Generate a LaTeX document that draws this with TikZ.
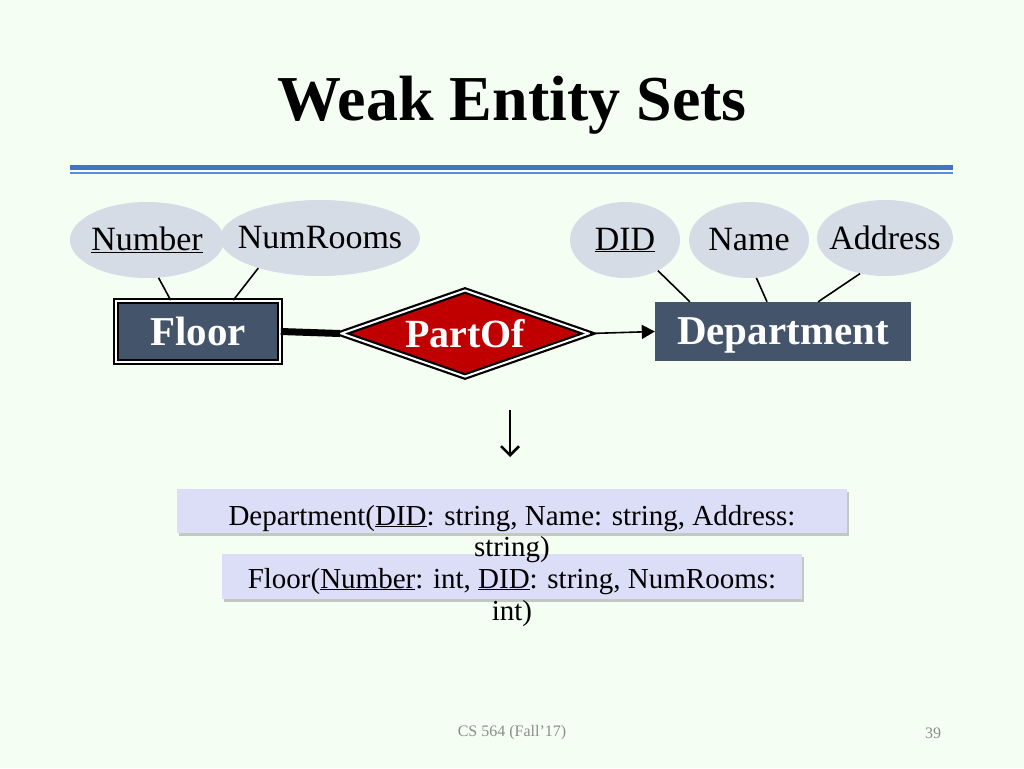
\documentclass[tikz,border=0pt]{standalone}
\usepackage{fontspec}
\setmainfont{Liberation Serif}
\usetikzlibrary{shapes.geometric,shadows,arrows.meta,calc}
\definecolor{bg}{HTML}{F5FEF3}
\definecolor{ruleblue}{HTML}{4472C4}
\definecolor{rulelight}{HTML}{5B8ED6}
\definecolor{attrfill}{HTML}{D6DCE5}
\definecolor{entfill}{HTML}{44546A}
\definecolor{relred}{HTML}{C00000}
\definecolor{boxfill}{HTML}{DCDEF7}
\definecolor{footgray}{HTML}{8C8C8C}
\newcommand{\zw}[1]{\makebox[0pt]{#1}}
\tikzset{
  attr/.style={ellipse, fill=attrfill, inner sep=0pt, font=\fontsize{34}{38}\selectfont},
  entity/.style={rectangle, fill=entfill, text=white, inner sep=0pt, text depth=0pt, font=\bfseries\fontsize{41}{46}\selectfont},
  weakent/.style={entity, draw=black, line width=1.6pt, double=white, double distance=2.6pt},
  relship/.style={diamond, fill=relred, text=white, inner sep=0pt, aspect=2.7, draw=black, line width=2.2pt, double=white, double distance=2pt, font=\bfseries\fontsize{40}{46}\selectfont},
  attrline/.style={draw=black, line width=1.6pt},
  schemabox/.style={rectangle, fill=boxfill, inner sep=0pt, drop shadow={shadow xshift=2pt, shadow yshift=-2.5pt, opacity=0.35, fill=black!60}},
  schematext/.style={font=\fontsize{29}{33}\selectfont, anchor=base, inner sep=0pt},
  foot/.style={font=\fontsize{16}{19}\selectfont, text=footgray, inner sep=0pt}
}
\begin{document}
\begin{tikzpicture}[x=1pt,y=-1pt]
\useasboundingbox[fill=bg] (0,0) rectangle (1024,768);

% title
\node[font=\bfseries\fontsize{64}{70}\selectfont, anchor=base, inner sep=0pt] (title) at (512,120) {Weak Entity Sets};
\coordinate (ruleL) at (70,167.5);
\coordinate (ruleR) at (953,167.5);
\coordinate (rule2L) at (70,173);
\coordinate (rule2R) at (953,173);
\draw[ruleblue, line width=5pt] (ruleL) -- (ruleR);
\draw[rulelight, line width=2pt] (rule2L) -- (rule2R);

% attributes
\node[attr, minimum width=154, minimum height=76] (number) at (147,240) {\zw{\underline{Number}}};
\node[attr, minimum width=200, minimum height=76] (numrooms) at (320,238) {\zw{NumRooms}};
\node[attr, minimum width=110, minimum height=76] (did) at (625,240) {\zw{\underline{DID}}};
\node[attr, minimum width=120, minimum height=76] (name) at (749,240) {\zw{Name}};
\node[attr, minimum width=136, minimum height=76] (address) at (885,238) {\zw{Address}};

% entities and relationship
\node[weakent, minimum width=164, minimum height=61] (floor) at (198,331.5) {Floor};
\node[relship, minimum width=248, minimum height=87] (partof) at (465,333.5) {PartOf};
\node[entity, minimum width=256, minimum height=59] (dept) at (783,331.5) {Department};

\draw[line width=7pt] (floor.east) -- (partof.west);
\draw[line width=1.6pt, -{Triangle[length=13pt,width=14pt]}] (partof.east) -- (dept.west);

\draw[attrline] (number.287) -- ($(floor.north west)!0.335!(floor.north east)$);
\draw[attrline] (numrooms.206) -- ($(floor.north west)!0.713!(floor.north east)$);
\draw[attrline] (did.317) -- ($(dept.north west)!0.137!(dept.north east)$);
\draw[attrline] (name.281) -- ($(dept.north west)!0.4375!(dept.north east)$);
\draw[attrline] (address.235) -- ($(dept.north west)!0.637!(dept.north east)$);

% down arrow
\coordinate (arrTop) at (510,410);
\coordinate (arrBot) at (510,457);
\draw[line width=2.5pt, -{Straight Barb[length=9pt,width=18pt]}] (arrTop) -- (arrBot);

% schema boxes
\node[schemabox, minimum width=670, minimum height=44] (box1) at (512,511) {};
\node[schemabox, minimum width=580, minimum height=45] (box2) at (512,576.5) {};
\node[schematext] (t1a) at (512,525) {Department(\underline{DID}: string, Name: string, Address:};
\node[schematext] (t1b) at (512,556) {string)};
\node[schematext] (t2a) at (512,588) {Floor(\underline{Number}: int, \underline{DID}: string, NumRooms:};
\node[schematext] (t2b) at (512,620) {int)};

% footer
\node[foot] (course) at (512,733) {CS 564 (Fall'17)};
\node[foot] (page) at (933,733) {39};
\end{tikzpicture}
\end{document}
